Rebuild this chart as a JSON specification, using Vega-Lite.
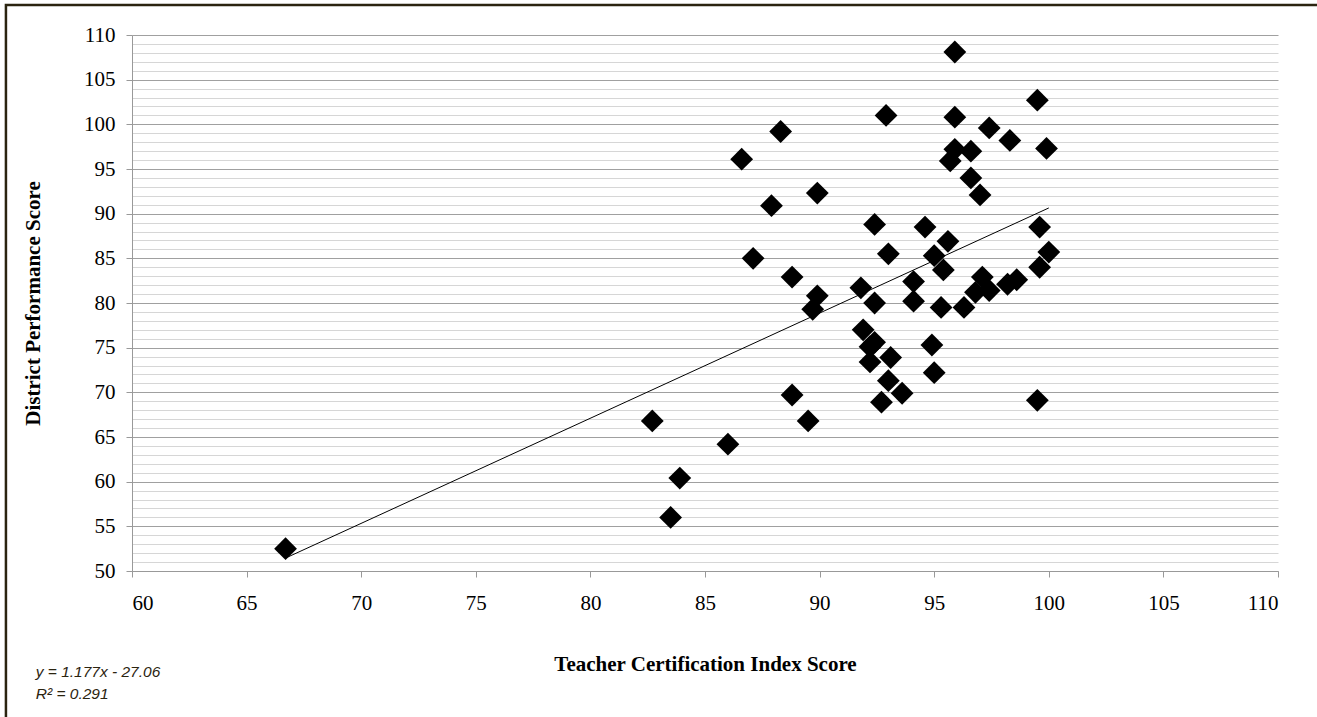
{
  "$schema": "https://vega.github.io/schema/vega-lite/v6.json",
  "width": 1146,
  "height": 536,
  "autosize": {"type": "none"},
  "padding": {"left": 132, "top": 35, "right": 39, "bottom": 146},
  "background": "white",
  "config": {"view": {"stroke": null}, "font": "Liberation Serif"},
  "datasets": {
    "districts": [
      {"cert": 66.7, "dps": 52.5},
      {"cert": 82.7, "dps": 66.8},
      {"cert": 83.5, "dps": 56.0},
      {"cert": 83.9, "dps": 60.4},
      {"cert": 86.0, "dps": 64.2},
      {"cert": 86.6, "dps": 96.1},
      {"cert": 87.1, "dps": 85.0},
      {"cert": 87.9, "dps": 90.9},
      {"cert": 88.3, "dps": 99.2},
      {"cert": 88.8, "dps": 82.9},
      {"cert": 88.8, "dps": 69.7},
      {"cert": 89.5, "dps": 66.8},
      {"cert": 89.7, "dps": 79.3},
      {"cert": 89.9, "dps": 92.3},
      {"cert": 89.9, "dps": 80.8},
      {"cert": 91.8, "dps": 81.7},
      {"cert": 91.9, "dps": 77.0},
      {"cert": 92.4, "dps": 75.6},
      {"cert": 92.2, "dps": 75.1},
      {"cert": 92.2, "dps": 73.4},
      {"cert": 93.1, "dps": 73.9},
      {"cert": 93.0, "dps": 71.3},
      {"cert": 93.6, "dps": 69.9},
      {"cert": 92.7, "dps": 68.9},
      {"cert": 92.4, "dps": 80.0},
      {"cert": 92.4, "dps": 88.8},
      {"cert": 92.9, "dps": 101.0},
      {"cert": 93.0, "dps": 85.5},
      {"cert": 94.1, "dps": 82.4},
      {"cert": 94.1, "dps": 80.2},
      {"cert": 94.6, "dps": 88.5},
      {"cert": 94.9, "dps": 75.3},
      {"cert": 95.0, "dps": 72.2},
      {"cert": 95.0, "dps": 85.3},
      {"cert": 95.4, "dps": 83.7},
      {"cert": 95.3, "dps": 79.5},
      {"cert": 95.6, "dps": 86.9},
      {"cert": 95.9, "dps": 108.1},
      {"cert": 95.9, "dps": 100.8},
      {"cert": 95.9, "dps": 97.2},
      {"cert": 95.7, "dps": 95.9},
      {"cert": 96.6, "dps": 97.0},
      {"cert": 96.6, "dps": 94.0},
      {"cert": 97.0, "dps": 92.1},
      {"cert": 96.3, "dps": 79.5},
      {"cert": 97.1, "dps": 82.9},
      {"cert": 96.8, "dps": 81.2},
      {"cert": 97.4, "dps": 81.4},
      {"cert": 97.4, "dps": 99.6},
      {"cert": 98.2, "dps": 82.1},
      {"cert": 98.6, "dps": 82.6},
      {"cert": 98.3, "dps": 98.2},
      {"cert": 99.5, "dps": 102.7},
      {"cert": 99.6, "dps": 88.5},
      {"cert": 99.6, "dps": 84.0},
      {"cert": 100.0, "dps": 85.7},
      {"cert": 99.9, "dps": 97.3},
      {"cert": 99.5, "dps": 69.1}
    ],
    "trend": [
      {"cert": 66.7, "dps": 51.45},
      {"cert": 100.0, "dps": 90.64}
    ]
  },
  "layer": [
    {
      "data": {"name": "trend"},
      "mark": {"type": "line", "color": "black", "strokeWidth": 1},
      "encoding": {
        "x": {
          "field": "cert", "type": "quantitative",
          "scale": {"domain": [60, 110], "nice": false, "zero": false},
          "axis": {
            "values": [60, 65, 70, 75, 80, 85, 90, 95, 100, 105, 110],
            "tickCount": 100,
            "format": "d",
            "grid": false,
            "title": "Teacher Certification Index Score",
            "tickSize": 6, "tickColor": "#999999", "domainColor": "#999999",
            "labelFont": "Liberation Serif", "labelFontSize": 21, "labelColor": "black",
            "labelPadding": 15, "labelOverlap": false,
            "titleFont": "Liberation Serif", "titleFontSize": 21, "titleFontWeight": "bold",
            "titleColor": "black", "titlePadding": 40
          }
        },
        "y": {
          "field": "dps", "type": "quantitative",
          "scale": {"domain": [50, 110], "nice": false, "zero": false},
          "axis": {
            "values": [50,51,52,53,54,55,56,57,58,59,60,61,62,63,64,65,66,67,68,69,70,71,72,73,74,75,76,77,78,79,80,81,82,83,84,85,86,87,88,89,90,91,92,93,94,95,96,97,98,99,100,101,102,103,104,105,106,107,108,109,110],
            "tickCount": 1000,
            "format": "d",
            "labelExpr": "datum.value % 5 === 0 ? datum.label : ''",
            "grid": true,
            "gridColor": {"condition": {"test": "datum.value % 5 === 0", "value": "#a0a0a0"}, "value": "#d6d6d6"},
            "tickOpacity": {"condition": {"test": "datum.value % 5 === 0", "value": 1}, "value": 0},
            "title": "District Performance Score",
            "tickSize": 6, "tickColor": "#999999", "domainColor": "#999999",
            "labelFont": "Liberation Serif", "labelFontSize": 21, "labelColor": "black",
            "labelPadding": 11, "labelOverlap": false,
            "titleFont": "Liberation Serif", "titleFontSize": 21, "titleFontWeight": "bold",
            "titleColor": "black", "titlePadding": 40
          }
        }
      }
    },
    {
      "data": {"name": "districts"},
      "mark": {"type": "point", "shape": "diamond", "filled": true, "color": "black", "opacity": 1, "size": 520},
      "encoding": {
        "x": {"field": "cert", "type": "quantitative"},
        "y": {"field": "dps", "type": "quantitative"}
      }
    },
    {
      "data": {"values": [{}]},
      "mark": {"type": "text", "align": "left", "baseline": "top", "font": "Liberation Sans", "fontStyle": "italic", "fontSize": 15.5, "color": "#2b2410", "lineHeight": 22, "clip": false},
      "encoding": {
        "x": {"datum": 55.8, "type": "quantitative"},
        "y": {"datum": 39.45, "type": "quantitative"},
        "text": {"value": ["y = 1.177x - 27.06", "R² = 0.291"]}
      }
    },
    {
      "data": {"values": [{}]},
      "mark": {"type": "rect", "filled": false, "stroke": "#2b2410", "strokeWidth": 2.5, "clip": false},
      "encoding": {
        "x": {"datum": 54.5, "type": "quantitative"},
        "x2": {"datum": 114},
        "y": {"datum": 113.35, "type": "quantitative"},
        "y2": {"datum": 31}
      }
    }
  ]
}
